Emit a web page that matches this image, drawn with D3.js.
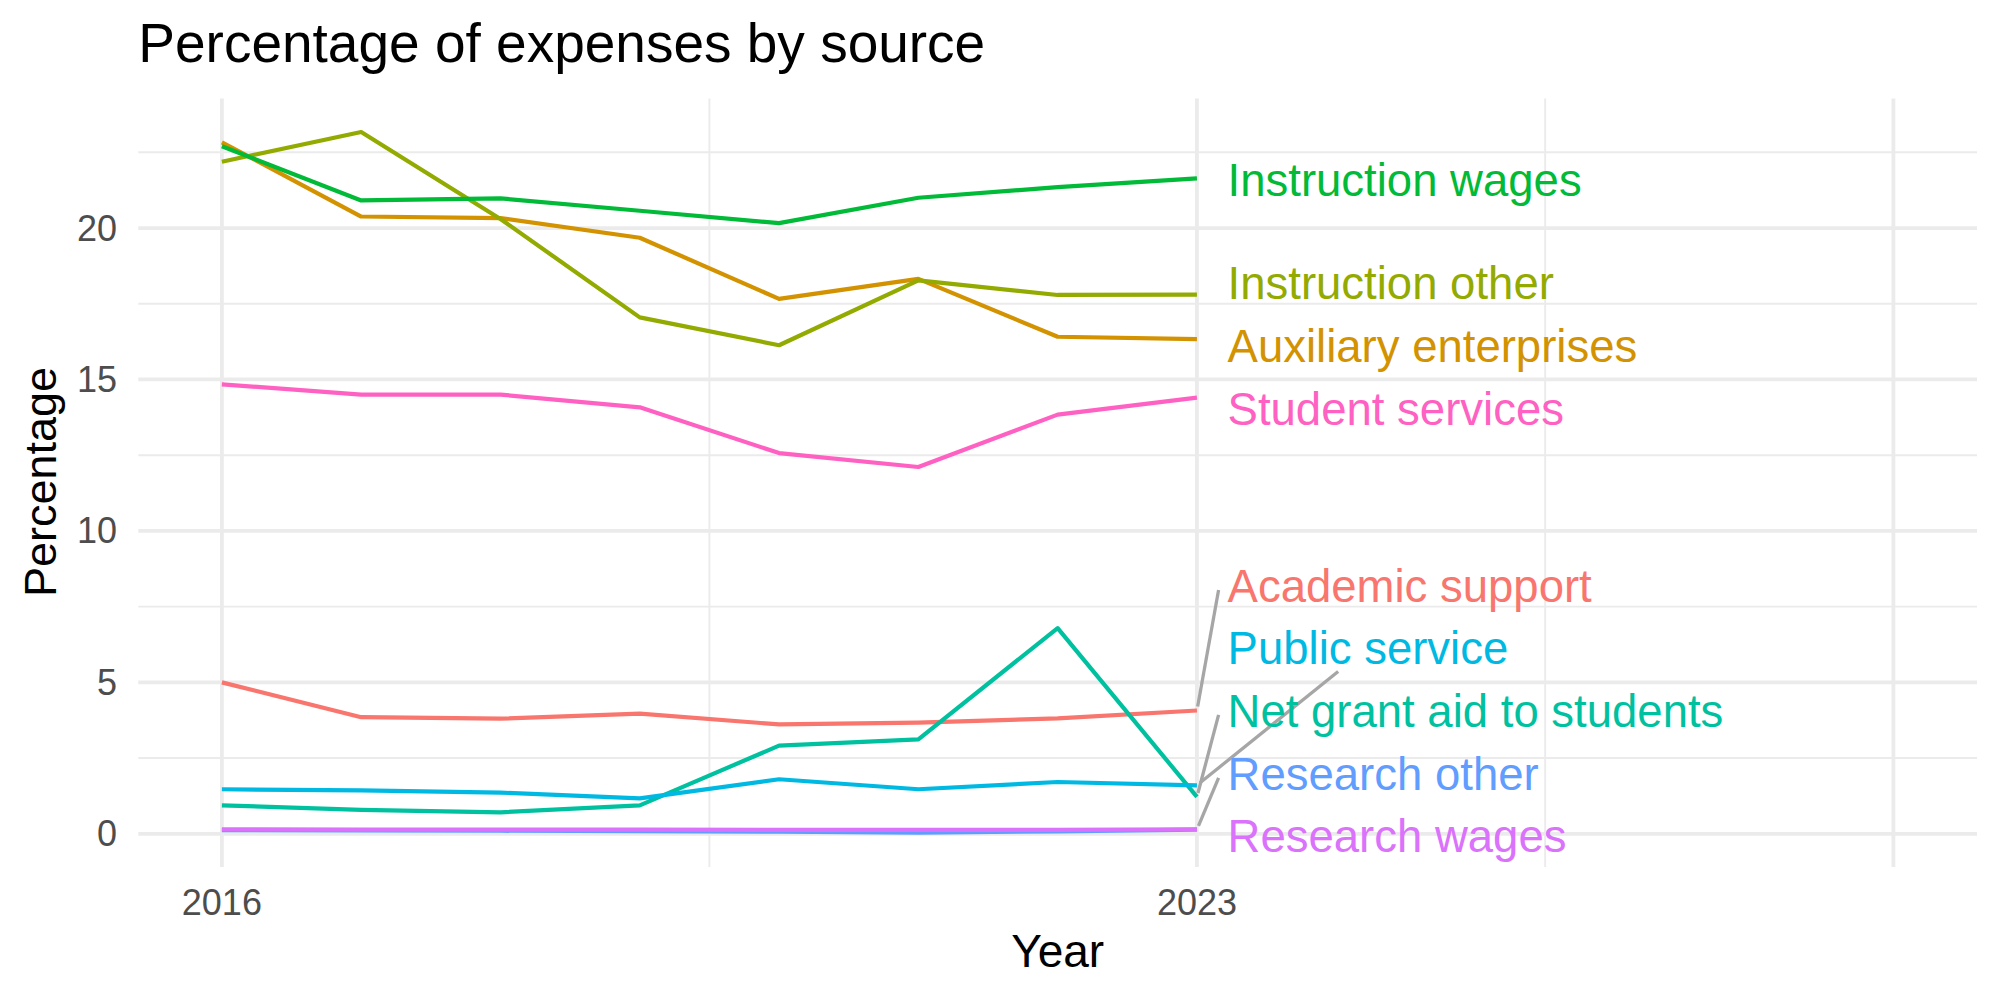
<!DOCTYPE html>
<html lang="en">
<head>
    <meta charset="UTF-8">
    <title>Percentage of expenses by source</title>
    <script src="https://d3js.org/d3.v7.min.js"></script>
    <style>
        body { margin: 0; background: #fff; }
        text { font-family: "Liberation Sans", Arial, Helvetica, sans-serif; }
    </style>
</head>
<body>
    <svg id="chart" width="2000" height="1000"></svg>
    <script>
        // data
        const years = [2016, 2017, 2018, 2019, 2020, 2021, 2022, 2023];
        const series = [
            "Academic support", "Auxiliary enterprises", "Instruction other",
            "Instruction wages", "Net grant aid to students", "Public service",
            "Research other", "Research wages", "Student services"
        ];
        const academicSupport  = [5.00, 3.85, 3.80, 3.97, 3.61, 3.67, 3.81, 4.07];
        const auxiliary        = [22.83, 20.38, 20.33, 19.68, 17.66, 18.32, 16.41, 16.33];
        const instructionOther = [22.19, 23.17, 20.30, 17.05, 16.13, 18.27, 17.79, 17.80];
        const instructionWages = [22.70, 20.91, 20.98, 20.57, 20.16, 21.00, 21.35, 21.64];
        const netGrantAid      = [0.94, 0.79, 0.71, 0.94, 2.91, 3.12, 6.79, 1.22];
        const publicService    = [1.47, 1.43, 1.36, 1.17, 1.80, 1.47, 1.71, 1.60];
        const researchOther    = [0.12, 0.11, 0.10, 0.09, 0.07, 0.04, 0.08, 0.14];
        const researchWages    = [0.15, 0.14, 0.14, 0.14, 0.13, 0.13, 0.13, 0.15];
        const studentServices  = [14.84, 14.50, 14.50, 14.08, 12.57, 12.11, 13.84, 14.40];
        const values = [academicSupport, auxiliary, instructionOther, instructionWages,
            netGrantAid, publicService, researchOther, researchWages, studentServices];
        // repelled label centres (percentage units)
        const labelValues = [8.18, 16.11, 18.18, 21.60, 4.06, 6.15, 1.98, -0.07, 14.03];
        const labelYear = 2023.22;
        const yTicks = [0, 5, 10, 15, 20];
        const xTicks = [2016, 2023];

        const colors = d3.scaleOrdinal()
            .domain(series)
            .range(["#F8766D", "#D39200", "#93AA00", "#00BA38", "#00C19F",
                    "#00B9E3", "#619CFF", "#DB72FB", "#FF61C3"]);

        const svg = d3.select("#chart");
        const panel = {left: 138.3, right: 1977, top: 98.4, bottom: 867.1};

        const x = d3.scaleLinear().domain([2015.4, 2028.6]).range([panel.left, panel.right]);
        const y = d3.scaleLinear().domain([-1.1, 24.28]).range([panel.bottom, panel.top]);

        // grid
        const grid = svg.append("g");
        const hMinor = [2.5, 7.5, 12.5, 17.5, 22.5];
        const vMinor = [2019.5, 2025.5];
        const vMajor = [2016, 2023, 2028];
        grid.selectAll(".hmin").data(hMinor).enter().append("line")
            .attr("x1", panel.left).attr("x2", panel.right)
            .attr("y1", d => y(d)).attr("y2", d => y(d))
            .attr("stroke", "#EBEBEB").attr("stroke-width", 1.9);
        grid.selectAll(".vmin").data(vMinor).enter().append("line")
            .attr("y1", panel.top).attr("y2", panel.bottom)
            .attr("x1", d => x(d)).attr("x2", d => x(d))
            .attr("stroke", "#EBEBEB").attr("stroke-width", 1.9);
        grid.selectAll(".hmaj").data(yTicks).enter().append("line")
            .attr("x1", panel.left).attr("x2", panel.right)
            .attr("y1", d => y(d)).attr("y2", d => y(d))
            .attr("stroke", "#EBEBEB").attr("stroke-width", 3.8);
        grid.selectAll(".vmaj").data(vMajor).enter().append("line")
            .attr("y1", panel.top).attr("y2", panel.bottom)
            .attr("x1", d => x(d)).attr("x2", d => x(d))
            .attr("stroke", "#EBEBEB").attr("stroke-width", 3.8);

        // lines
        const line = d3.line().x((d, i) => x(years[i])).y(d => y(d));
        svg.append("g").selectAll("path")
            .data(series)
            .enter().append("path")
                .attr("d", (s, i) => line(values[i]))
                .attr("fill", "none")
                .attr("stroke", s => colors(s))
                .attr("stroke-width", 4.2)
                .attr("stroke-linejoin", "round");

        // labels with leader segments
        const segLayer = svg.append("g");
        const labels = svg.append("g").selectAll("text")
            .data(series)
            .enter().append("text")
                .attr("x", x(labelYear))
                .attr("y", (s, i) => y(labelValues[i]) + 16)
                .attr("font-size", 45.5)
                .attr("fill", s => colors(s))
                .text(s => s);

        const attachBottom = {"Public service": true};
        labels.each(function(s, i) {
            const bb = this.getBBox();
            const box = {x1: bb.x - 9, x2: bb.x + bb.width + 9,
                         cy: y(labelValues[i]), y1: y(labelValues[i]) - 24, y2: y(labelValues[i]) + 24};
            const px = x(years[years.length - 1]);
            const py = y(values[i][values[i].length - 1]);
            const dx = Math.max(box.x1 - px, 0, px - box.x2);
            const dy = Math.max(box.y1 - py, 0, py - box.y2);
            if (Math.hypot(dx, dy) < 30) return;
            let ex, ey;
            if (attachBottom[s]) {
                const cx = (box.x1 + box.x2) / 2;
                const t = (py - box.y2) / (py - box.cy);
                ex = px + t * (cx - px);
                ey = box.y2;
            } else {
                ex = box.x1;
                ey = box.cy + 4;
            }
            const ang = Math.atan2(ey - py, ex - px);
            segLayer.append("line")
                .attr("x1", px + 4 * Math.cos(ang)).attr("y1", py + 4 * Math.sin(ang))
                .attr("x2", ex).attr("y2", ey)
                .attr("stroke", "#A6A6A6").attr("stroke-width", 3.3);
        });

        // axes text
        svg.append("g").selectAll("text")
            .data(yTicks)
            .enter().append("text")
                .attr("x", 117).attr("y", d => y(d) + 12.5)
                .attr("text-anchor", "end")
                .attr("font-size", 36).attr("fill", "#4D4D4D")
                .text(d => d);
        svg.append("g").selectAll("text")
            .data(xTicks)
            .enter().append("text")
                .attr("x", d => x(d)).attr("y", 915)
                .attr("text-anchor", "middle")
                .attr("font-size", 36).attr("fill", "#4D4D4D")
                .text(d => d);

        svg.append("text")
            .attr("x", (panel.left + panel.right) / 2).attr("y", 967)
            .attr("text-anchor", "middle").attr("font-size", 46)
            .text("Year");
        svg.append("text")
            .attr("transform", "translate(56,482) rotate(-90)")
            .attr("text-anchor", "middle").attr("font-size", 45)
            .text("Percentage");
        svg.append("text")
            .attr("x", panel.left).attr("y", 62)
            .attr("font-size", 55)
            .text("Percentage of expenses by source");
    </script>
</body>
</html>
